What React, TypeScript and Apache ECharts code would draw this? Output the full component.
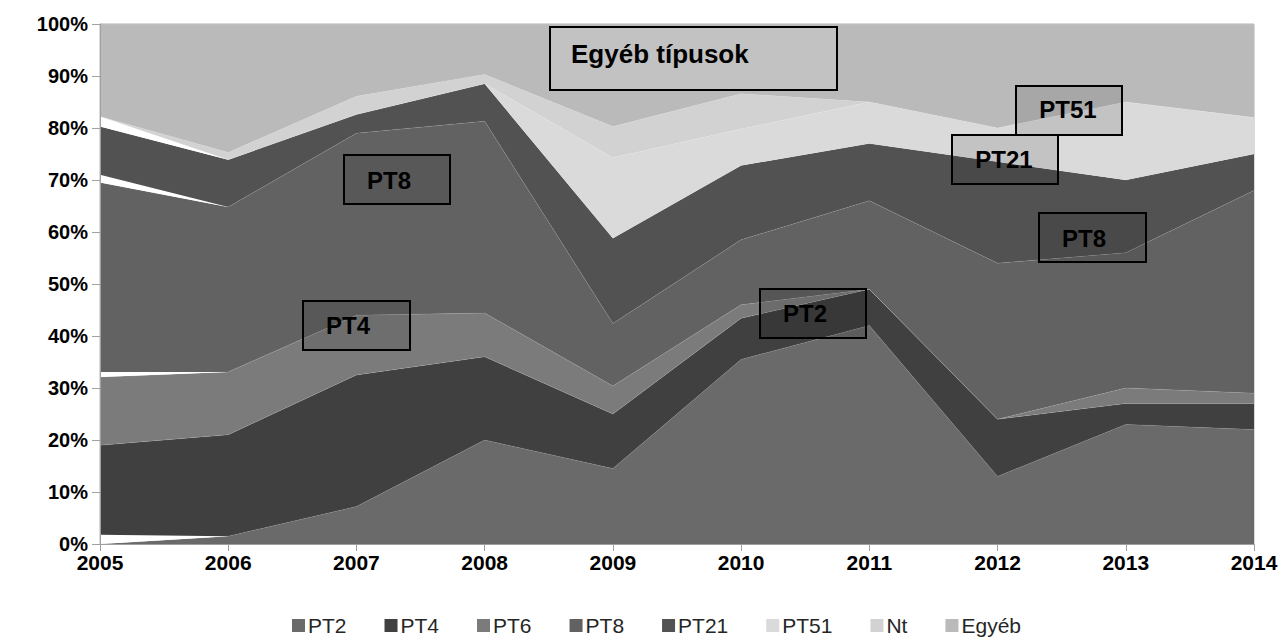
import React, { useEffect, useRef } from "react";
import * as echarts from "echarts";

const years = ["2005", "2006", "2007", "2008", "2009", "2010", "2011", "2012", "2013", "2014"];
const pt2 = [0, 1.5, 7.2, 20, 14.5, 35.5, 42, 13, 23, 22];
const gapA = [1.8, 0, 0, 0, 0, 0, 0, 0, 0, 0];
const pt4 = [17.2, 19.5, 25.3, 16, 10.5, 7.9, 7, 11, 4, 5];
const pt6 = [13.1, 12.1, 11.5, 8.4, 5.4, 2.6, 0, 0, 3, 2];
const gapB = [1, 0, 0, 0, 0, 0, 0, 0, 0, 0];
const pt8 = [36.4, 31.7, 35, 36.9, 12, 12.5, 17, 30, 26, 39];
const gapC = [1.5, 0, 0, 0, 0, 0, 0, 0, 0, 0];
const pt21 = [9.3, 9.1, 3.6, 7.2, 16.4, 14.3, 11, 19.5, 14, 7];
const gapD = [1.9, 0, 0, 0, 0, 0, 0, 0, 0, 0];
const pt51 = [0, 0, 0, 0, 15.5, 7, 8, 6.5, 15, 7];
const nt = [0, 1.4, 3.5, 1.8, 6, 6.8, 0, 0, 0, 0];
const egyeb = [17.8, 24.7, 13.9, 9.7, 19.7, 13.4, 15, 20, 15, 18];
const yTicks = { min: 0, max: 100, interval: 10 };

const legendNames = ["PT2", "PT4", "PT6", "PT8", "PT21", "PT51", "Nt", "Egyéb"];

const FONT = "'Liberation Sans', Arial, sans-serif";

export default function App() {
  const ref = useRef<HTMLDivElement>(null);
  useEffect(() => {
    document.body.style.margin = "0";
    const chart = echarts.init(ref.current!, null, { renderer: "svg" });
    const mk = (name: string, data: number[], color: string, gap = false) => ({
      name,
      type: "line",
      stack: "total",
      data,
      symbol: "none",
      showSymbol: false,
      silent: gap,
      lineStyle: { width: gap ? 0 : 0.6, color: gap ? "#ffffff" : "rgba(255,255,255,0.18)" },
      itemStyle: { color },
      areaStyle: { color, opacity: 1 },
      emphasis: { disabled: true },
      z: 2,
    });
    const series = [
      mk("PT2", pt2, "#6a6a6a"),
      mk("gapA", gapA, "#ffffff", true),
      mk("PT4", pt4, "#404040"),
      mk("PT6", pt6, "#7b7b7b"),
      mk("gapB", gapB, "#ffffff", true),
      mk("PT8", pt8, "#626262"),
      mk("gapC", gapC, "#ffffff", true),
      mk("PT21", pt21, "#525252"),
      mk("gapD", gapD, "#ffffff", true),
      mk("PT51", pt51, "#dadada"),
      mk("Nt", nt, "#d2d2d2"),
      mk("Egyéb", egyeb, "#bababa"),
    ];
    const box = (x: number, y: number, w: number, h: number, fill: string) => ({
      type: "rect",
      shape: { x, y, width: w, height: h },
      style: { fill, stroke: "#000", lineWidth: 2 },
      z: 100,
    });
    const label = (text: string, x: number, y: number, align = "center", size = 24) => ({
      type: "text",
      x,
      y,
      style: {
        text,
        fill: "#000",
        font: `bold ${size}px ${FONT}`,
        textAlign: align,
        textVerticalAlign: "middle",
      },
      z: 101,
    });
    chart.setOption({
      animation: false,
      textStyle: { fontFamily: FONT },
      grid: {
        left: 100,
        right: 32,
        top: 24,
        bottom: 99,
        show: true,
        borderColor: "#b4b4b4",
        borderWidth: 1,
        backgroundColor: "transparent",
      },
      legend: {
        data: legendNames,
        top: 610,
        left: 287,
        icon: "rect",
        itemWidth: 13,
        itemHeight: 13,
        itemGap: 38,
        textStyle: { fontSize: 21, color: "#262626", fontFamily: FONT, padding: [0, 0, 0, -2] },
        selectedMode: false,
      },
      xAxis: {
        type: "category",
        data: years,
        boundaryGap: false,
        axisLine: { lineStyle: { color: "#a0a0a0", width: 1 } },
        axisTick: { show: true, length: 7, lineStyle: { color: "#a0a0a0" } },
        axisLabel: { fontSize: 21, fontWeight: "bold", color: "#000", margin: 8, fontFamily: FONT },
        splitLine: { show: false },
        z: 10,
      },
      yAxis: {
        type: "value",
        min: yTicks.min,
        max: yTicks.max,
        interval: yTicks.interval,
        axisLine: { show: true, lineStyle: { color: "#a0a0a0", width: 1 } },
        axisTick: { show: true, length: 8, lineStyle: { color: "#a0a0a0" } },
        axisLabel: { fontSize: 20, fontWeight: "bold", color: "#000", margin: 12, formatter: "{value}%", fontFamily: FONT },
        splitLine: { show: false },
        z: 10,
      },
      series,
      graphic: [
        box(550, 27, 287, 63, "rgba(255,255,255,0.12)"),
        label("Egyéb típusok", 571, 54, "left", 26),
        box(344, 155, 106, 49, "rgba(0,0,0,0.1)"),
        label("PT8", 389, 180),
        box(303, 301, 107, 49, "rgba(0,0,0,0.1)"),
        label("PT4", 348, 325),
        box(760, 289, 106, 49, "rgba(0,0,0,0.12)"),
        label("PT2", 805, 313),
        box(1016, 86, 106, 49, "rgba(0,0,0,0.1)"),
        label("PT51", 1068, 109),
        box(952, 135, 106, 49, "rgba(0,0,0,0.1)"),
        label("PT21", 1004, 159),
        box(1039, 213, 107, 49, "rgba(0,0,0,0.1)"),
        label("PT8", 1084, 238),
      ],
    });
    return () => chart.dispose();
  }, []);
  return <div ref={ref} style={{ width: 1286, height: 643 }} />;
}
